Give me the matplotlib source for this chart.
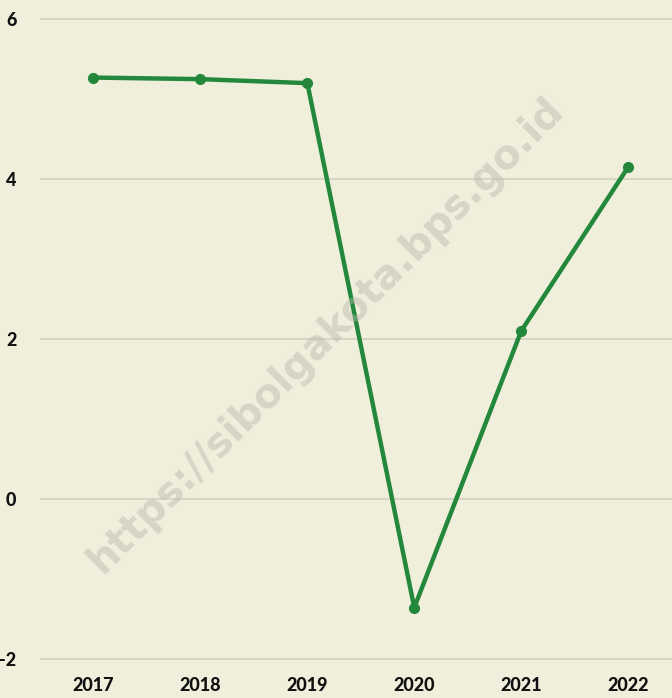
import matplotlib.pyplot as plt

years = ['2017', '2018', '2019', '2020', '2021', '2022']
growth = [5.27, 5.25, 5.20, -1.36, 2.10, 4.15]
yticks = [-2, 0, 2, 4, 6]

bg = '#f0efdc'
green = '#23883c'

fig = plt.figure(figsize=(6.72, 6.98), dpi=100, facecolor=bg)
ax = fig.add_axes([40 / 672, 28 / 698, 632 / 672, 670 / 698], facecolor=bg)

x = list(range(len(years)))
ax.plot(x, growth, color=green, lw=3.2, marker='o', ms=7, zorder=3,
        solid_capstyle='round')

ax.set_xlim(-0.5, 5.41)
ax.set_ylim(-2.14, 6.24)
ax.set_yticks(yticks)
ax.set_yticklabels([str(v) for v in yticks])
ax.set_xticks(x)
ax.set_xticklabels(years)
ax.grid(axis='y', color='#d2d1c0', lw=1.2)
ax.set_axisbelow(True)
for s in ax.spines.values():
    s.set_visible(False)
ax.tick_params(length=0, labelsize=13, labelcolor='#111111')
ax.tick_params(axis='y', pad=17)
ax.tick_params(axis='x', pad=5)
for lab in ax.get_xticklabels() + ax.get_yticklabels():
    lab.set_fontfamily('Lato')
    lab.set_fontweight('black')

fig.text(0.485, 0.52, 'https://sibolgakota.bps.go.id', rotation=45,
         ha='center', va='center', fontsize=29, fontweight='bold',
         color='#b8b8ac', alpha=0.45, family='DejaVu Sans')

fig.savefig('out.png', dpi=100, facecolor=bg)
